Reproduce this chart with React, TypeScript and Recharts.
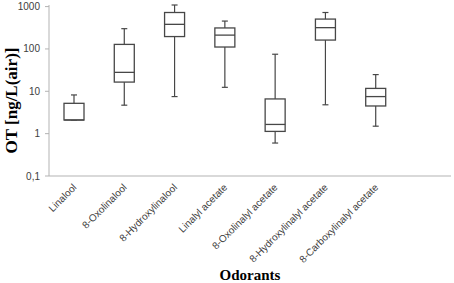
import { ComposedChart, Bar, Scatter, XAxis, YAxis, Label } from "recharts";

// Box plot values (ng/L air, log scale)
const odorants = [
  "Linalool",
  "8-Oxolinalool",
  "8-Hydroxylinalool",
  "Linalyl acetate",
  "8-Oxolinalyl acetate",
  "8-Hydroxylinalyl acetate",
  "8-Carboxylinalyl acetate",
];
const whiskerLow = [2.1, 4.7, 7.5, 12.4, 0.6, 4.8, 1.5];
const quartile1 = [2.1, 16.5, 196, 111, 1.13, 162, 4.5];
const medians = [2.1, 28, 381, 212, 1.65, 318, 7.5];
const quartile3 = [5.2, 128, 725, 313, 6.6, 507, 11.7];
const whiskerHigh = [8.2, 301, 1090, 455, 75, 725, 24.8];
const yTicks = [0.1, 1, 10, 100, 1000];
const boundaryTicks = [0, 1, 2, 3, 4, 5, 6, 7, 8];

const data = odorants.map((name, i) => ({
  name,
  whisker: [whiskerLow[i], whiskerHigh[i]],
  box: [quartile1[i], quartile3[i]],
  median: medians[i],
}));

const INK = "#474747";
const AXIS = "#b3b3b3";

const WhiskerShape = (props: any) => {
  const { x, y, width, height } = props;
  if (!isFinite(y) || !isFinite(height)) return null;
  const cx = x + width / 2;
  return (
    <g stroke={INK} strokeWidth={1.2}>
      <line x1={cx} x2={cx} y1={y} y2={y + height} />
      <line x1={cx - 3} x2={cx + 3} y1={y} y2={y} />
      <line x1={cx - 3} x2={cx + 3} y1={y + height} y2={y + height} />
    </g>
  );
};

const BoxShape = (props: any) => {
  const { x, y, width, height } = props;
  if (!isFinite(y) || !isFinite(height)) return null;
  return <rect x={x} y={y} width={width} height={height} fill="#fff" stroke={INK} strokeWidth={1.3} />;
};

const MedianShape = (props: any) => {
  const { cx, cy } = props;
  if (!isFinite(cy)) return null;
  return <line x1={cx - 10} x2={cx + 10} y1={cy} y2={cy} stroke={INK} strokeWidth={1.3} />;
};

const AngledTick = (props: any) => {
  const { x, y, payload } = props;
  const ax = x + 3;
  const ay = y + 4;
  return (
    <text
      x={ax}
      y={ay}
      transform={`rotate(-45, ${ax}, ${ay})`}
      textAnchor="end"
      fontSize={10}
      fontFamily="'Liberation Sans', Arial, sans-serif"
      fill="#404040"
    >
      {payload.value}
    </text>
  );
};

const YTitle = (props: any) => {
  const { viewBox } = props;
  const cx = viewBox.x + 11;
  const cy = viewBox.y + viewBox.height / 2 + 10;
  return (
    <text
      x={cx}
      y={cy}
      dy="0.35em"
      transform={`rotate(-90, ${cx}, ${cy})`}
      textAnchor="middle"
      fontSize={17}
      fontWeight="bold"
      fontFamily="'Liberation Serif', 'Times New Roman', serif"
      fill="#000"
    >
      OT [ng/L(air)]
    </text>
  );
};

export default function App() {
  return (
    <div style={{ position: "absolute", left: 0, top: 0, width: 454, height: 283, background: "#fff" }}>
      <ComposedChart width={454} height={283} data={data} margin={{ top: 5, right: 3, bottom: 0, left: 0 }}>
        <XAxis
          xAxisId="grid"
          type="number"
          domain={[0, 8]}
          allowDataOverflow
          ticks={boundaryTicks}
          tick={false}
          height={0}
          axisLine={false}
          tickSize={4}
          tickLine={{ stroke: AXIS }}
        />
        <XAxis
          xAxisId="main"
          dataKey="name"
          interval={0}
          height={107}
          padding={{ left: 0, right: 50 }}
          axisLine={{ stroke: AXIS }}
          tickLine={false}
          tick={<AngledTick />}
        >
          <Label
            value="Odorants"
            position="insideBottom"
            offset={3}
            style={{ fontSize: 15, fontWeight: "bold", fontFamily: "'Liberation Serif', serif", fill: "#000" }}
          />
        </XAxis>
        <XAxis xAxisId="w" dataKey="name" hide padding={{ left: 0, right: 50 }} />
        <YAxis
          scale="log"
          domain={[0.1, 1000]}
          ticks={yTicks}
          width={49}
          tickSize={4}
          tickMargin={5}
          axisLine={{ stroke: AXIS }}
          tickLine={{ stroke: AXIS }}
          tick={{ fontSize: 10, fill: "#404040", fontFamily: "'Liberation Sans', Arial, sans-serif" }}
          tickFormatter={(v: number) => String(v).replace(".", ",")}
        >
          <Label content={<YTitle />} />
        </YAxis>
        <Bar xAxisId="w" dataKey="whisker" barSize={20} shape={<WhiskerShape />} isAnimationActive={false} />
        <Bar xAxisId="main" dataKey="box" barSize={20} shape={<BoxShape />} isAnimationActive={false} />
        <Scatter xAxisId="main" dataKey="median" shape={<MedianShape />} isAnimationActive={false} />
      </ComposedChart>
    </div>
  );
}
